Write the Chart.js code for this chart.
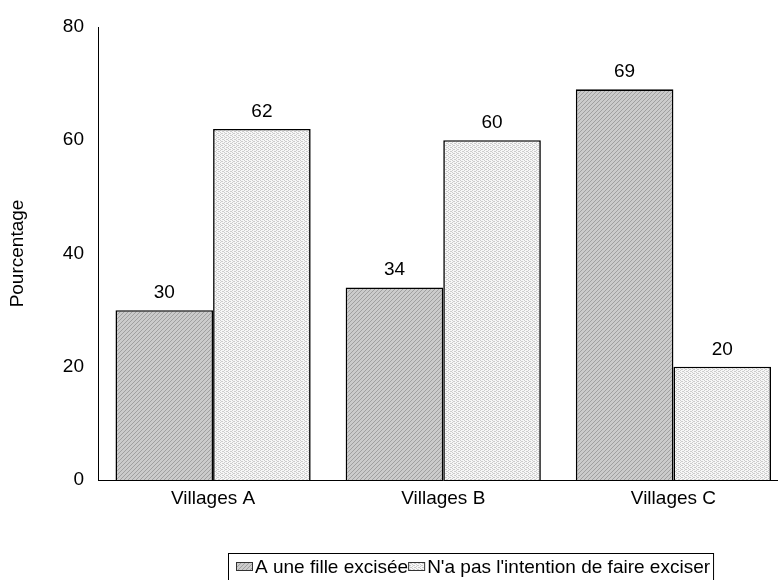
<!DOCTYPE html>
<html>
<head>
<meta charset="utf-8">
<script src="https://cdn.jsdelivr.net/npm/chart.js@4/dist/chart.umd.min.js"></script>
<style>
html,body{margin:0;padding:0;background:#fff;overflow:hidden;width:778px;height:580px;}
#wrap{position:absolute;left:0;top:0;width:790px;height:580px;}
</style>
</head>
<body>
<div id="wrap"><canvas id="c" width="790" height="580"></canvas></div>
<script>
const categories = ['Villages A', 'Villages B', 'Villages C'];
const seriesNames = ['A une fille excisée', "N'a pas l'intention de faire exciser"];
const excisee = [30, 34, 69];
const pasIntention = [62, 60, 20];
const yTicks = [0, 20, 40, 60, 80];
const yTitle = 'Pourcentage';

const FONT = 'Arial, "Liberation Sans", sans-serif';
const FS = 19;

function makeDarkPattern() {
  const p = document.createElement('canvas');
  p.width = 4; p.height = 4;
  const g = p.getContext('2d');
  g.fillStyle = '#cbcbcb';
  g.fillRect(0, 0, 4, 4);
  g.fillStyle = '#a0a0a0';
  for (let i = 0; i < 4; i++) g.fillRect(i % 4, 3 - i, 1, 1);
  return g.createPattern(p, 'repeat');
}
function makeLightPattern() {
  const p = document.createElement('canvas');
  p.width = 4; p.height = 4;
  const g = p.getContext('2d');
  g.fillStyle = '#f7f7f7';
  g.fillRect(0, 0, 4, 4);
  g.fillStyle = '#cccccc';
  g.fillRect(0, 0, 1, 1); g.fillRect(2, 1, 1, 1);
  g.fillRect(0, 2, 1, 1); g.fillRect(2, 3, 1, 1);
  g.fillRect(1, 1, 1, 1); g.fillRect(3, 3, 1, 1);
  return g.createPattern(p, 'repeat');
}
const darkPat = makeDarkPattern();
const lightPat = makeLightPattern();

const valueLabels = {
  id: 'valueLabels',
  afterDatasetsDraw(chart) {
    const ctx = chart.ctx;
    ctx.save();
    ctx.font = FS + 'px ' + FONT;
    ctx.fillStyle = '#000';
    ctx.textAlign = 'center';
    ctx.textBaseline = 'alphabetic';
    chart.data.datasets.forEach((ds, di) => {
      chart.getDatasetMeta(di).data.forEach((bar, i) => {
        ctx.fillText(String(ds.data[i]), bar.x, bar.y - 12);
      });
    });
    ctx.restore();
  }
};

const boxLegend = {
  id: 'boxLegend',
  afterDraw(chart) {
    const ctx = chart.ctx;
    ctx.save();
    ctx.font = FS + 'px ' + FONT;
    const boxX = 228, boxY = 553;
    let x = boxX + 8;
    const pats = [darkPat, lightPat];
    const items = [];
    seriesNames.forEach((name, i) => {
      items.push({x: x, name: name, pat: pats[i]});
      x += 17 + 2 + ctx.measureText(name).width;
    });
    const boxW = x + 3 - boxX;
    ctx.strokeStyle = '#000';
    ctx.lineWidth = 1;
    ctx.strokeRect(boxX + 0.5, boxY + 0.5, boxW, 40);
    items.forEach(it => {
      ctx.fillStyle = it.pat;
      ctx.fillRect(it.x, 562, 17, 9);
      ctx.strokeStyle = '#333';
      ctx.strokeRect(it.x + 0.5, 562.5, 16, 8);
      ctx.fillStyle = '#000';
      ctx.textBaseline = 'alphabetic';
      ctx.textAlign = 'left';
      ctx.fillText(it.name, it.x + 19, 573);
    });
    ctx.restore();
  }
};

new Chart(document.getElementById('c'), {
  type: 'bar',
  data: {
    labels: categories,
    datasets: [
      {label: seriesNames[0], data: excisee, backgroundColor: darkPat, borderColor: '#000', borderWidth: 1.6},
      {label: seriesNames[1], data: pasIntention, backgroundColor: lightPat, borderColor: '#000', borderWidth: 1.6}
    ]
  },
  options: {
    responsive: false,
    animation: false,
    events: [],
    layout: {padding: {top: 27, right: 1.5, left: 0, bottom: 0}},
    datasets: {bar: {categoryPercentage: 0.848, barPercentage: 1.0}},
    plugins: {legend: {display: false}, tooltip: {enabled: false}},
    scales: {
      x: {
        grid: {display: false, drawTicks: false},
        border: {display: true, color: '#000', width: 1},
        ticks: {color: '#000', font: {family: FONT, size: FS}, padding: 7, maxRotation: 0},
        afterFit(s) { s.height = 100; }
      },
      y: {
        min: 0, max: 80,
        afterBuildTicks(s) { s.ticks = yTicks.map(v => ({value: v})); },
        grid: {display: false, drawTicks: false},
        border: {display: true, color: '#000', width: 1},
        ticks: {color: '#000', font: {family: FONT, size: FS}, padding: 14},
        title: {display: true, text: yTitle, color: '#000', font: {family: FONT, size: FS}, padding: {top: 6, bottom: 0}},
        afterFit(s) { s.width = 98; }
      }
    }
  },
  plugins: [valueLabels, boxLegend]
});
</script>
</body>
</html>
